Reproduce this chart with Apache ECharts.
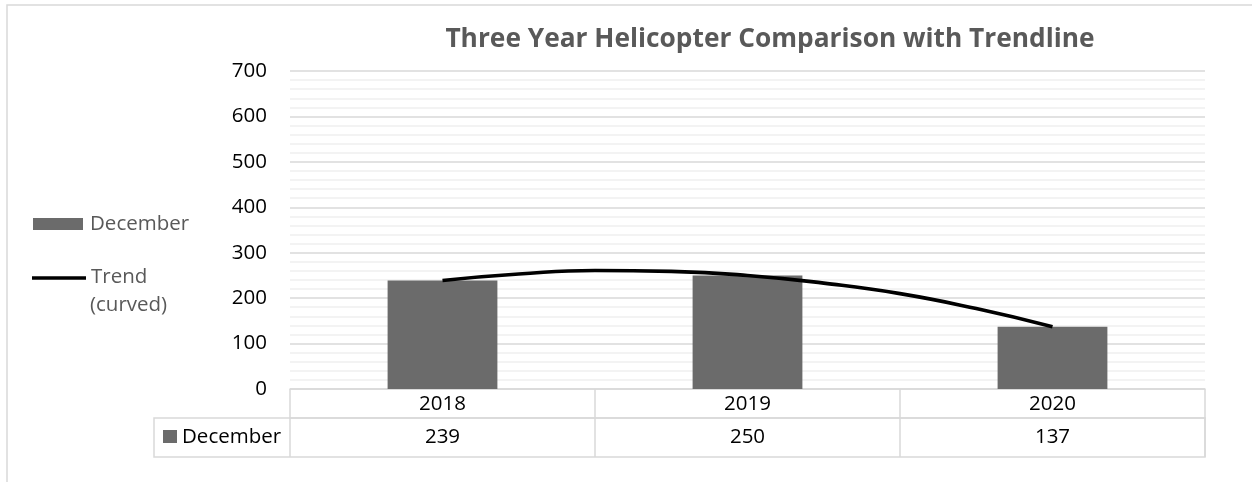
<!DOCTYPE html>
<html>
<head>
<meta charset="utf-8">
<script src="https://cdn.jsdelivr.net/npm/echarts@6/dist/echarts.min.js"></script>
<style>
  html, body { margin: 0; padding: 0; background: #fff; }
  #chart { width: 1252px; height: 482px; }
</style>
</head>
<body>
<div id="chart"></div>
<script>
// Chart data
const titleText = 'Three Year Helicopter Comparison with Trendline';
const categories = ['2018', '2019', '2020'];
const seriesName = 'December';
const decemberValues = [239, 250, 137];
const trendName = 'Trend';
const trendNameSub = '(curved)';
// curved trendline, sampled along the year axis (0 = 2018, 1 = 2019, 2 = 2020)
const trendPos = [0, 0.25, 0.5, 0.75, 1, 1.25, 1.5, 1.75, 2];
const trendValues = [239, 253, 261, 259, 250, 233, 210, 177, 137];
const yTicks = [0, 100, 200, 300, 400, 500, 600, 700];

// Layout
const FONT = '"Open Sans", "Noto Sans", sans-serif';
const FS = 20.5;
const W = 1252, H = 482;
const plotLeft = 290, plotRight = 1205, plotTop = 71, plotBottom = 389;
const rowH1 = 29, rowH2 = 39;
const headerLeft = 154;
const GRID = '#d9d9d9';
const BAR = '#6b6b6b';
const LEGEND_TEXT = '#595959';

const chart = echarts.init(document.getElementById('chart'), null, { renderer: 'canvas' });

const option = {
  backgroundColor: '#fff',
  animation: false,
  title: {
    text: titleText,
    left: 765, top: 22, textAlign: 'center',
    textStyle: { fontFamily: FONT, fontSize: 26.3, fontWeight: 'bold', color: '#595959' }
  },
  grid: {
    left: plotLeft, right: W - plotRight, top: plotTop, bottom: H - plotBottom,
    containLabel: false
  },
  xAxis: [
    {
      type: 'category', data: categories, position: 'bottom',
      axisLine: { show: true, lineStyle: { color: GRID, width: 1.5 } },
      axisTick: { show: true, interval: 0, length: rowH1, lineStyle: { color: GRID, width: 1.5 } },
      axisLabel: { fontFamily: FONT, fontSize: FS, color: '#000', margin: 3, lineHeight: 24 }
    },
    {
      type: 'category', data: decemberValues.map(String), position: 'bottom', offset: rowH1,
      axisLine: { show: true, lineStyle: { color: GRID, width: 1.5 } },
      axisTick: { show: true, interval: 0, length: rowH2, lineStyle: { color: GRID, width: 1.5 } },
      axisLabel: { fontFamily: FONT, fontSize: FS, color: '#000', margin: 7, lineHeight: 24 }
    },
    {
      // continuous year position used by the trendline
      type: 'value', min: -0.5, max: 2.5, show: false
    }
  ],
  yAxis: {
    type: 'value', min: 0, max: 700, interval: 100,
    axisLine: { show: false }, axisTick: { show: false },
    axisLabel: {
      fontFamily: FONT, fontSize: FS, color: '#000', margin: 23,
      formatter: v => (yTicks.indexOf(v) >= 0 ? String(v) : '')
    },
    splitLine: { show: true, lineStyle: { color: GRID, width: 1.5 } },
    minorTick: { show: false, splitNumber: 5 },
    minorSplitLine: { show: true, lineStyle: { color: '#efefef', width: 1.5 } }
  },
  series: [
    {
      name: seriesName, type: 'bar', data: decemberValues, xAxisIndex: 0,
      barWidth: '36%', itemStyle: { color: BAR }
    },
    {
      name: trendName + ' ' + trendNameSub, type: 'line', xAxisIndex: 2,
      data: trendPos.map((p, i) => [p, trendValues[i]]),
      smooth: true, showSymbol: false, symbol: 'none',
      lineStyle: { color: '#000', width: 3.6 }, z: 5
    }
  ],
  graphic: [
    // outer chart frame
    { type: 'rect', shape: { x: 7, y: 5, width: W + 20, height: H + 20 },
      style: { fill: 'none', stroke: GRID, lineWidth: 1.5 }, silent: true },
    // data table: header cell and bottom edge
    { type: 'rect', shape: { x: headerLeft, y: plotBottom + rowH1, width: plotRight - headerLeft, height: rowH2 },
      style: { fill: 'none', stroke: GRID, lineWidth: 1.5 }, silent: true },
    { type: 'rect', shape: { x: headerLeft + 9, y: plotBottom + rowH1 + 12, width: 14, height: 13 },
      style: { fill: BAR }, silent: true },
    { type: 'text', x: headerLeft + 28, y: plotBottom + rowH1 + rowH2 / 2,
      style: { text: seriesName, font: FS + 'px ' + FONT, fill: '#000', verticalAlign: 'middle' }, silent: true },
    // legend
    { type: 'rect', shape: { x: 33, y: 218, width: 50, height: 12 }, style: { fill: BAR }, silent: true },
    { type: 'text', x: 90, y: 224,
      style: { text: seriesName, font: FS + 'px ' + FONT, fill: LEGEND_TEXT, verticalAlign: 'middle' }, silent: true },
    { type: 'line', shape: { x1: 32, y1: 278, x2: 86, y2: 278 },
      style: { stroke: '#000', lineWidth: 3.4 }, silent: true },
    { type: 'text', x: 91, y: 277,
      style: { text: trendName, font: FS + 'px ' + FONT, fill: LEGEND_TEXT, verticalAlign: 'middle' }, silent: true },
    { type: 'text', x: 90, y: 305,
      style: { text: trendNameSub, font: FS + 'px ' + FONT, fill: LEGEND_TEXT, verticalAlign: 'middle' }, silent: true }
  ]
};

chart.setOption(option);
</script>
</body>
</html>
